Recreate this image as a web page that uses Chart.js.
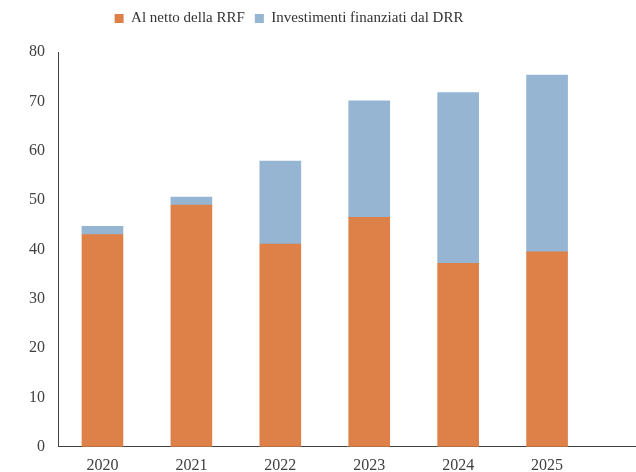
<!DOCTYPE html>
<html>
<head>
<meta charset="utf-8">
<script src="https://cdn.jsdelivr.net/npm/chart.js@4"></script>
<style>
  html, body { margin: 0; padding: 0; background: #fff; overflow: hidden; }
  #wrap { width: 636px; height: 484px; position: relative; }
</style>
</head>
<body>
<div id="wrap"><canvas id="chart"></canvas></div>
<script>
// --- Data ---
const years = [2020, 2021, 2022, 2023, 2024, 2025];
const nettoRRF = [43.0, 49.0, 41.1, 46.5, 37.2, 39.5];
const investDRR = [1.7, 1.6, 16.8, 23.6, 34.6, 35.8];
const yTicks = [0, 10, 20, 30, 40, 50, 60, 70, 80];

const serif = '"Liberation Serif", "Times New Roman", serif';
const axisColor = '#404040';

// extra room under the legend, and nudge it left like the original
const legendTweak = {
    id: 'legendTweak',
    beforeInit(chart) {
        const fit = chart.legend.fit;
        chart.legend.fit = function () {
            fit.bind(chart.legend)();
            this.height += 16;
        };
    },
    afterLayout(chart) {
        chart.legend.left -= 37;
        chart.legend.right -= 37;
    }
};

const ctx = document.getElementById('chart').getContext('2d');
new Chart(ctx, {
    type: 'bar',
    data: {
        labels: years,
        datasets: [
            {
                label: 'Al netto della RRF',
                data: nettoRRF,
                backgroundColor: '#DE8149',
                borderWidth: 0,
                barThickness: 41
            },
            {
                label: 'Investimenti finanziati dal DRR',
                data: investDRR,
                backgroundColor: '#95B5D3',
                borderWidth: 0,
                barThickness: 41
            }
        ]
    },
    plugins: [legendTweak],
    options: {
        responsive: true,
        maintainAspectRatio: false,
        animation: false,
        layout: { padding: { left: 16, right: 0, top: 1, bottom: 0 } },
        plugins: {
            legend: {
                position: 'top',
                labels: {
                    color: '#333',
                    font: { family: serif, size: 15 },
                    boxWidth: 9,
                    boxHeight: 9,
                    padding: 10
                }
            },
            tooltip: { enabled: false }
        },
        scales: {
            x: {
                type: 'linear',
                stacked: true,
                offset: false,
                min: 2019.5,
                max: 2026,
                grid: { display: false, drawTicks: false, offset: false },
                border: { display: true, color: axisColor, width: 1 },
                afterBuildTicks: (scale) => {
                    scale.ticks = years.map(v => ({ value: v }));
                },
                ticks: {
                    color: axisColor,
                    font: { family: serif, size: 16 },
                    padding: 9,
                    maxRotation: 0,
                    callback: (v) => String(v)
                }
            },
            y: {
                stacked: true,
                min: 0,
                max: 80,
                grid: { display: false, drawTicks: false },
                border: { display: true, color: axisColor, width: 1 },
                afterBuildTicks: (scale) => {
                    scale.ticks = yTicks.map(v => ({ value: v }));
                },
                ticks: {
                    color: axisColor,
                    font: { family: serif, size: 16 },
                    padding: 13
                }
            }
        }
    }
});
</script>
</body>
</html>
